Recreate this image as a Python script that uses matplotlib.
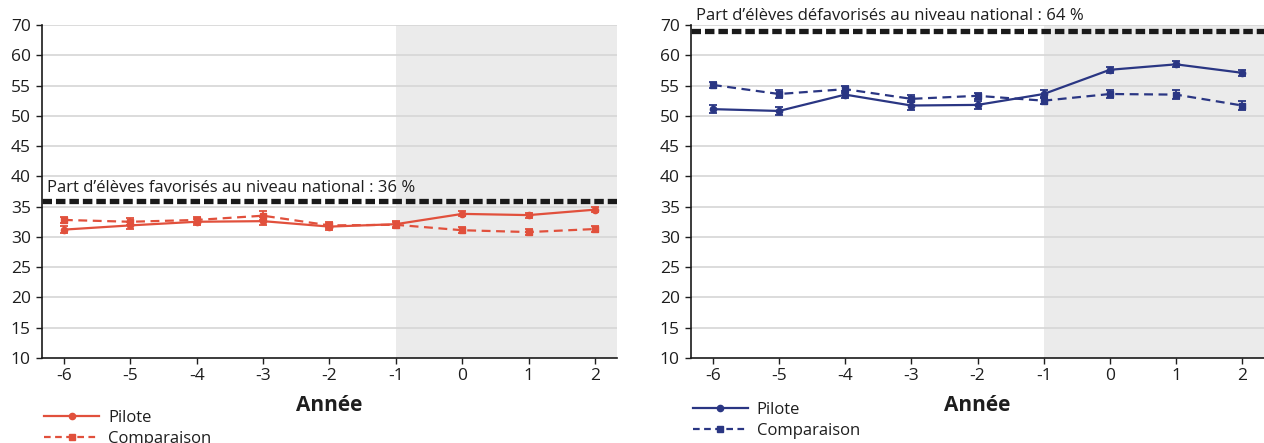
import matplotlib
matplotlib.use("Agg")
import matplotlib.pyplot as plt
from matplotlib.lines import Line2D

plt.rcParams["font.family"] = ["Open Sans", "DejaVu Sans"]

annees = [-6, -5, -4, -3, -2, -1, 0, 1, 2]

# favorisés (gauche)
fav_pilote = [31.2, 31.9, 32.5, 32.6, 31.7, 32.1, 33.8, 33.6, 34.5]
fav_pilote_err = [0.6, 0.6, 0.5, 0.7, 0.5, 0.5, 0.4, 0.4, 0.4]
fav_comp = [32.8, 32.5, 32.8, 33.5, 31.9, 32.0, 31.1, 30.8, 31.3]
fav_comp_err = [0.5, 0.6, 0.5, 0.7, 0.5, 0.5, 0.5, 0.5, 0.5]
fav_national = 36

# défavorisés (droite)
defav_pilote = [51.1, 50.8, 53.5, 51.7, 51.8, 53.6, 57.6, 58.5, 57.1]
defav_pilote_err = [0.7, 0.7, 0.6, 0.7, 0.6, 0.6, 0.5, 0.5, 0.5]
defav_comp = [55.1, 53.6, 54.4, 52.8, 53.3, 52.5, 53.6, 53.5, 51.7]
defav_comp_err = [0.5, 0.6, 0.6, 0.6, 0.5, 0.6, 0.7, 0.7, 0.8]
defav_national = 64

yticks = [10, 15, 20, 25, 30, 35, 40, 45, 50, 55, 60, 65]
ytick_labels = ["10", "15", "20", "25", "30", "35", "40", "45", "50", "55", "60", "70"]

ROUGE = "#e1503c"
MARINE = "#2a3683"
TXT = "#1e1e1e"

fig = plt.figure(figsize=(12.64, 4.43), dpi=100)
ax1 = fig.add_axes([0.0332, 0.1919, 0.4549, 0.7517])
ax2 = fig.add_axes([0.5467, 0.1919, 0.4533, 0.7517])


def panel(ax, pilote, pilote_err, comp, comp_err, couleur, national, label, label_y):
    ax.set_xlim(-6.33, 2.33)
    ax.set_ylim(10, 65)
    ax.axvspan(-1, 2.33, color="#ebebeb", zorder=0, lw=0)
    for y in yticks[1:]:
        ax.axhline(y, color="#d6d6d6", lw=1.2, zorder=1)
    ax.errorbar(annees, pilote, yerr=pilote_err, color=couleur, lw=1.6,
                marker="o", ms=4.5, capsize=3, capthick=1.3, elinewidth=1.3, zorder=4)
    ax.errorbar(annees, comp, yerr=comp_err, color=couleur, lw=1.6, ls=(0, (4, 2.5)),
                marker="s", ms=5, capsize=3, capthick=1.3, elinewidth=1.3, zorder=3)
    ax.axhline(national, color="#1a1a1a", lw=3.8, ls=(0, (1.8, 0.75)), zorder=5)
    ax.text(-6.25, label_y, label, fontsize=12, color=TXT, va="baseline", ha="left")

    ax.set_xticks(annees)
    ax.set_xticklabels([str(a) for a in annees])
    ax.set_yticks(yticks)
    ax.set_yticklabels(ytick_labels)
    ax.tick_params(axis="both", labelsize=12.5, colors=TXT, length=4, width=1)
    ax.tick_params(axis="y", pad=4)
    ax.tick_params(axis="x", pad=3)
    for s in ["top", "right"]:
        ax.spines[s].set_visible(False)
    for s in ["left", "bottom"]:
        ax.spines[s].set_color("#1a1a1a")
        ax.spines[s].set_linewidth(1.2)
        ax.spines[s].set_zorder(6)
    ax.set_xlabel("Année", fontsize=15, fontweight="bold", color=TXT, labelpad=8)


panel(ax1, fav_pilote, fav_pilote_err, fav_comp, fav_comp_err, ROUGE, fav_national,
      "Part d\u2019élèves favorisés au niveau national : 36 %", 37.4)
panel(ax2, defav_pilote, defav_pilote_err, defav_comp, defav_comp_err, MARINE, defav_national,
      "Part d\u2019élèves défavorisés au niveau national : 64 %", 65.9)


def legende(couleur, x, y):
    handles = [
        Line2D([], [], color=couleur, lw=1.6, marker="o", ms=4.5),
        Line2D([], [], color=couleur, lw=1.6, ls=(0, (3, 2)), marker="s", ms=5),
    ]
    leg = fig.legend(handles, ["Pilote", "Comparaison"], loc="upper left",
                     bbox_to_anchor=(x, y), frameon=False, fontsize=12,
                     handlelength=3.3, handletextpad=0.55, labelspacing=0.28,
                     borderaxespad=0, borderpad=0)
    for t in leg.get_texts():
        t.set_color(TXT)


legende(ROUGE, 0.035, 0.074)
legende(MARINE, 0.548, 0.092)

fig.savefig("out.png", dpi=100)
